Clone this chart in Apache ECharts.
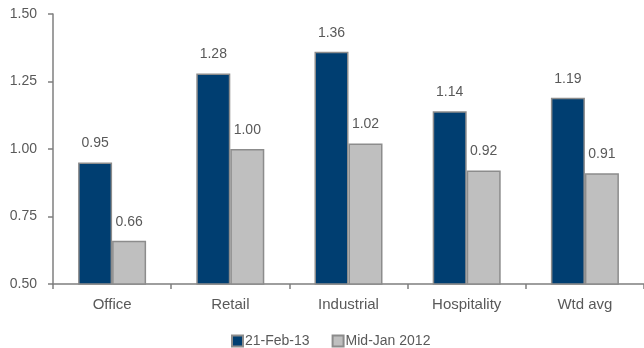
<!DOCTYPE html>
<html>
<head>
<meta charset="utf-8">
<script src="https://cdn.jsdelivr.net/npm/echarts@6/dist/echarts.min.js"></script>
<style>
  html, body { margin: 0; padding: 0; background: #fff; }
  #chart { width: 644px; height: 348px; }
</style>
</head>
<body>
<div id="chart"></div>
<script>
// Cap rates by sector
const categories = ['Office', 'Retail', 'Industrial', 'Hospitality', 'Wtd avg'];
const febValues = [0.95, 1.28, 1.36, 1.14, 1.19];
const janValues = [0.66, 1.00, 1.02, 0.92, 0.91];
const seriesNames = ['21-Feb-13', 'Mid-Jan 2012'];

const FONT = '"Liberation Sans Narrow", "Arial Narrow", "Liberation Sans", sans-serif';
const TEXT = '#595959';

const chart = echarts.init(document.getElementById('chart'), null, { renderer: 'canvas' });

const labelStyle = {
  show: true,
  position: 'top',
  distance: 12,
  fontFamily: FONT,
  fontSize: 14,
  color: TEXT,
  formatter: p => p.value.toFixed(2)
};

chart.setOption({
  animation: false,
  grid: { left: 53, top: 14, width: 597, height: 270 },
  legend: {
    bottom: -5,
    left: 226,
    itemWidth: 11,
    itemHeight: 11,
    itemGap: 22,
    icon: 'rect',
    textStyle: { fontFamily: FONT, fontSize: 14, color: TEXT, padding: [0, 0, 0, -3] },
    data: seriesNames
  },
  xAxis: {
    type: 'category',
    data: categories,
    axisLine: { lineStyle: { color: '#7f7f7f', width: 1.5 } },
    axisTick: { show: true, length: 5, lineStyle: { color: '#7f7f7f', width: 1.5 } },
    axisLabel: { fontFamily: FONT, fontSize: 15, color: TEXT, margin: 13 }
  },
  yAxis: {
    type: 'value',
    min: 0.5,
    max: 1.5,
    interval: 0.25,
    splitLine: { show: false },
    axisLine: { show: true, lineStyle: { color: '#7f7f7f', width: 1.5 } },
    axisTick: { show: true, length: 5, lineStyle: { color: '#7f7f7f', width: 1.5 } },
    axisLabel: { fontFamily: FONT, fontSize: 14, color: TEXT, margin: 16, formatter: v => v.toFixed(2) }
  },
  series: [
    {
      name: seriesNames[0],
      type: 'bar',
      data: febValues,
      barWidth: 34,
      barGap: '0%',
      itemStyle: { color: '#003e71', borderColor: '#8c8c8c', borderWidth: 1.5 },
      label: labelStyle
    },
    {
      name: seriesNames[1],
      type: 'bar',
      data: janValues,
      barWidth: 34,
      itemStyle: { color: '#bfbfbf', borderColor: '#8c8c8c', borderWidth: 1.5 },
      label: labelStyle
    }
  ]
});
</script>
</body>
</html>
